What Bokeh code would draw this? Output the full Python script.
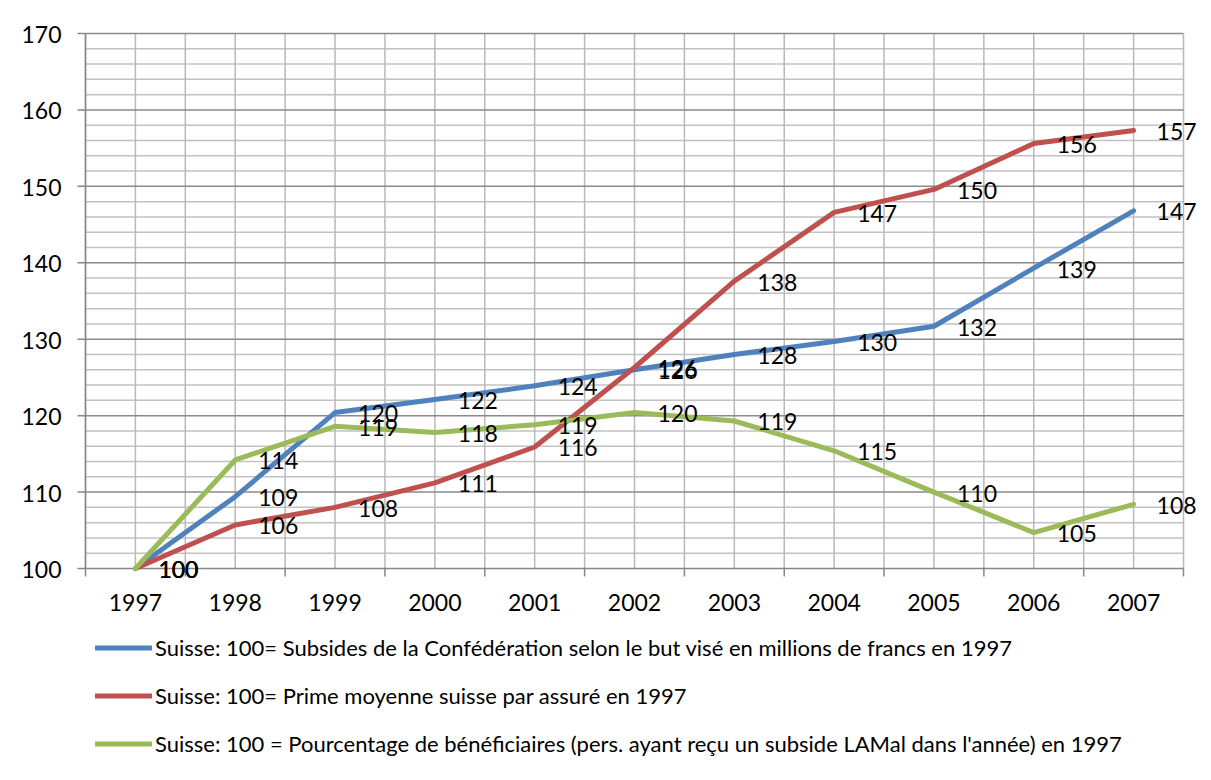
from bokeh.plotting import figure
from bokeh.models import Range1d, Legend, LegendItem, ColumnDataSource
from bokeh.core.properties import value
from bokeh.embed import file_html
from bokeh.resources import INLINE

years = [1997, 1998, 1999, 2000, 2001, 2002, 2003, 2004, 2005, 2006, 2007]
subsides = [100, 109.4, 120.4, 122.1, 123.9, 126.0, 128.0, 129.7, 131.7, 139.3, 146.8]
primes = [100, 105.7, 108.0, 111.2, 115.9, 126.3, 137.6, 146.6, 149.6, 155.6, 157.3]
beneficiaires = [100, 114.2, 118.6, 117.8, 118.8, 120.4, 119.3, 115.4, 110.0, 104.7, 108.4]

y_ticks = [100, 110, 120, 130, 140, 150, 160, 170]
y_minor = [v for v in range(100, 171, 2) if v % 10 != 0]
x_bounds = [y - 0.5 for y in years] + [years[-1] + 0.5]

names = [
    "Suisse: 100= Subsides de la Confédération selon le but visé en millions de francs en 1997",
    "Suisse: 100= Prime moyenne suisse par assuré en 1997",
    "Suisse: 100 = Pourcentage de bénéficiaires (pers. ayant reçu un subside LAMal dans l'année) en 1997",
]
colors = ["#4F81BD", "#C0504D", "#9BBB59"]
series = [subsides, primes, beneficiaires]

FONT = "Lato"
W, H = 1211, 780
# plot-area placement in pixels
PL, PR, PT, PB = 85, 1183, 33, 568
xmin, xmax = x_bounds[0], x_bounds[-1]
ymin, ymax = y_ticks[0], y_ticks[-1]
kx = (PR - PL) / (xmax - xmin)
ky = (PB - PT) / (ymax - ymin)

p = figure(width=W, height=H, output_backend="svg", toolbar_location=None,
           x_range=Range1d(xmin - PL / kx, xmax + (W - PR) / kx),
           y_range=Range1d(ymin - (H - PB) / ky, ymax + PT / ky),
           min_border=0)
p.axis.visible = False
p.grid.visible = False
p.outline_line_color = None
p.background_fill_color = "white"
p.border_fill_color = "white"
p.styles = {"outline": "1.5px solid #8c8c8c", "outline-offset": "-3px"}

# grid lines
p.segment(x0=xmin, x1=xmax, y0=y_minor, y1=y_minor, line_color="#c2c2c2", line_width=1.5)
p.segment(x0=sorted(set(years + x_bounds)), x1=sorted(set(years + x_bounds)),
          y0=ymin, y1=ymax, line_color="#b9b9b9", line_width=1.5)
p.segment(x0=xmin, x1=xmax, y0=y_ticks[1:], y1=y_ticks[1:], line_color="#8a8a8a", line_width=1.5)

# axes
AX = "#868686"
p.segment(x0=xmin, x1=xmin, y0=ymin, y1=ymax, line_color=AX, line_width=1.5)
p.segment(x0=xmin, x1=xmax, y0=ymin, y1=ymin, line_color=AX, line_width=1.5)
p.segment(x0=xmin - 8 / kx, x1=xmin, y0=y_ticks, y1=y_ticks, line_color=AX, line_width=1.5)
p.segment(x0=x_bounds, x1=x_bounds, y0=ymin - 8 / ky, y1=ymin, line_color=AX, line_width=1.5)

p.text(x=xmin, y=y_ticks, text=[str(v) for v in y_ticks], x_offset=-24, y_offset=1,
       text_align="right", text_baseline="middle",
       text_font=value(FONT), text_font_size="23px", text_color="black")
p.text(x=years, y=ymin, text=[str(v) for v in years], x_offset=0, y_offset=34,
       text_align="center", text_baseline="middle",
       text_font=value(FONT), text_font_size="23px", text_color="black")

items = []
for name, col, vals in zip(names, colors, series):
    r = p.line(years, vals, line_color=col, line_width=5, line_join="round", line_cap="round")
    items.append(LegendItem(label=name, renderers=[r]))

for name, col, vals in zip(names, colors, series):
    src = ColumnDataSource(dict(x=years, y=vals, lab=[str(int(round(v))) for v in vals]))
    p.text("x", "y", text="lab", source=src, x_offset=23, y_offset=1,
           text_align="left", text_baseline="middle",
           text_font=value(FONT), text_font_size="23px", text_color="black")

legend = Legend(items=items, location=(95, 13), orientation="vertical")
legend.border_line_color = None
legend.background_fill_alpha = 0
legend.padding = 0
legend.margin = 0
legend.spacing = 1
legend.glyph_width = 57
legend.glyph_height = 47
legend.label_height = 47
legend.label_standoff = 3
legend.label_text_font = FONT
legend.label_text_font_size = "22px"
legend.label_text_color = "black"
legend.label_text_baseline = "middle"
p.add_layout(legend, "center")

open("out.html", "w").write(file_html(p, INLINE))
